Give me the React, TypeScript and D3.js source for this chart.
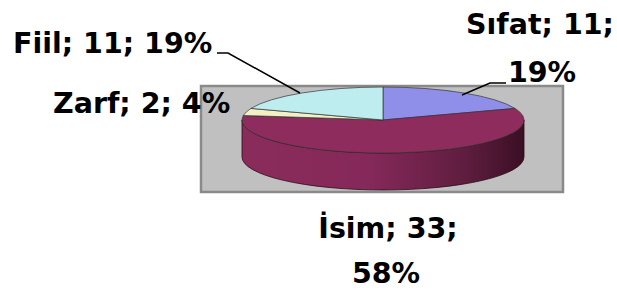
import React from "react";
import * as d3 from "d3";

const categories = ["Sıfat", "İsim", "Zarf", "Fiil"];
const values = [11, 33, 2, 11];
const percents = ["19%", "58%", "4%", "19%"];
const colors = ["#8F8FEA", "#8E2D5D", "#F2F0C4", "#BDEDEE"];

const W = 617;
const H = 298;

export default function App() {
  const cx = 383;
  const cy = 120;
  const rx = 141;
  const ry = 33;
  const depth = 37;

  const pie = d3
    .pie<number>()
    .sort(null)
    .startAngle(0)
    .endAngle(2 * Math.PI)
    .value((d) => d);
  const arcs = pie(values);

  const pt = (a: number, dy = 0) => [cx + rx * Math.sin(a), cy - ry * Math.cos(a) + dy];

  const topPath = (a0: number, a1: number) => {
    const p0 = pt(a0);
    const p1 = pt(a1);
    const large = a1 - a0 > Math.PI ? 1 : 0;
    return `M${cx},${cy}L${p0[0]},${p0[1]}A${rx},${ry} 0 ${large} 1 ${p1[0]},${p1[1]}Z`;
  };

  const sidePath = (a0: number, a1: number) => {
    const s = Math.max(a0, Math.PI / 2);
    const e = Math.min(a1, (3 * Math.PI) / 2);
    if (e <= s) return null;
    const p0 = pt(s);
    const p1 = pt(e);
    const q1 = pt(e, depth);
    const q0 = pt(s, depth);
    return `M${p0[0]},${p0[1]}A${rx},${ry} 0 0 1 ${p1[0]},${p1[1]}L${q1[0]},${q1[1]}A${rx},${ry} 0 0 0 ${q0[0]},${q0[1]}Z`;
  };

  const font = "'DejaVu Sans', sans-serif";
  const fs = 28.5;

  return (
    <svg
      width={W}
      height={H}
      style={{ position: "absolute", left: 0, top: 0, background: "#fff" }}
      fontFamily={font}
      fontWeight="bold"
      fontSize={fs}
    >
      <defs>
        <linearGradient id="sideGrad" x1="0" x2="1" y1="0" y2="0">
          <stop offset="0" stopColor="#8A2C5B" />
          <stop offset="0.45" stopColor="#85295A" />
          <stop offset="0.8" stopColor="#5E1D3E" />
          <stop offset="1" stopColor="#3A0F24" />
        </linearGradient>
      </defs>
      <rect x={201} y={86} width={362} height={106} fill="#C0C0C0" stroke="#8A8A8A" strokeWidth={2.5} />
      {arcs.map((a, i) => {
        const d = sidePath(a.startAngle, a.endAngle);
        return d ? (
          <path key={"s" + i} d={d} fill="url(#sideGrad)" stroke="#2a0a18" strokeWidth={0.8} />
        ) : null;
      })}
      {arcs.map((a, i) => (
        <path
          key={"t" + i}
          d={topPath(a.startAngle, a.endAngle)}
          fill={colors[i]}
          stroke="#333"
          strokeWidth={0.7}
        />
      ))}
      {/* leader lines */}
      <polyline points="217,53 228,53 300,93" fill="none" stroke="#000" strokeWidth={1.5} />
      <polyline points="462,95 490,83 506,83" fill="none" stroke="#000" strokeWidth={1.5} />
      {/* labels */}
      <text x={13} y={53} fill="#000">
        {`${categories[3]}; ${values[3]}; ${percents[3]}`}
      </text>
      <text x={53} y={113} fill="#000">
        {`${categories[2]}; ${values[2]}; ${percents[2]}`}
      </text>
      <text x={540} y={34} textAnchor="middle" fill="#000">
        {`${categories[0]}; ${values[0]};`}
      </text>
      <text x={542} y={82} textAnchor="middle" fill="#000">
        {percents[0]}
      </text>
      <text x={388} y={238} textAnchor="middle" fill="#000">
        {`${categories[1]}; ${values[1]};`}
      </text>
      <text x={386} y={283} textAnchor="middle" fill="#000">
        {percents[1]}
      </text>
    </svg>
  );
}
